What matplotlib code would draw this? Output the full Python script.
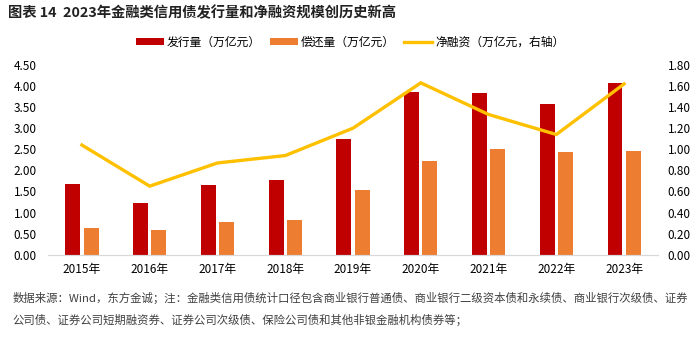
import matplotlib.pyplot as plt
import numpy as np

plt.rcParams["font.family"] = ["Noto Sans CJK SC", "DejaVu Sans"]
plt.rcParams["axes.unicode_minus"] = False

years = ["2015年", "2016年", "2017年", "2018年", "2019年", "2020年", "2021年", "2022年", "2023年"]
issuance = [1.67, 1.23, 1.65, 1.76, 2.74, 3.85, 3.83, 3.58, 4.08]
repayment = [0.63, 0.58, 0.78, 0.82, 1.54, 2.22, 2.50, 2.44, 2.46]
net_financing = [1.04, 0.65, 0.87, 0.94, 1.20, 1.63, 1.33, 1.14, 1.62]

c_issue = "#C00000"
c_repay = "#ED7D31"
c_net = "#FFC000"

fig = plt.figure(figsize=(7, 3.4), dpi=100)
ax = fig.add_axes([0.0686, 0.251, 0.8714, 0.558])
ax2 = ax.twinx()

x = np.arange(len(years))
w = 0.22
ax.bar(x - 0.135, issuance, width=w, color=c_issue, label="发行量（万亿元）", zorder=2)
ax.bar(x + 0.135, repayment, width=w, color=c_repay, label="偿还量（万亿元）", zorder=2)
ax2.plot(x, net_financing, color=c_net, lw=2.4, label="净融资（万亿元，右轴）",
         solid_joinstyle="miter")

ax.set_xlim(-0.5, len(years) - 0.5)
ax.set_ylim(0, 4.5)
ax.set_yticks(np.arange(0, 4.51, 0.5))
ax.set_yticklabels([f"{v:.2f}" for v in np.arange(0, 4.51, 0.5)])
ax2.set_ylim(0, 1.8)
ax2.set_yticks(np.arange(0, 1.81, 0.2))
ax2.set_yticklabels([f"{v:.2f}" for v in np.arange(0, 1.81, 0.2)])
ax.set_xticks(x)
ax.set_xticklabels(years)

for a in (ax, ax2):
    for s in ("top", "left", "right"):
        a.spines[s].set_visible(False)
    a.spines["bottom"].set_color("#D9D9D9")
    a.tick_params(length=0, labelsize=8.5, colors="black")
ax.tick_params(axis="y", pad=8)
ax2.tick_params(axis="y", pad=7)
ax.tick_params(axis="x", pad=6)

h1, l1 = ax.get_legend_handles_labels()
h2, l2 = ax2.get_legend_handles_labels()
fig.legend(h1 + h2, l1 + l2, loc="center", bbox_to_anchor=(0.5, 0.875), ncol=3,
           frameon=False, fontsize=8.5, handlelength=2.4, handleheight=0.55,
           columnspacing=0.75, handletextpad=0.25)

fig.text(0.011, 0.963, "图表 14  2023年金融类信用债发行量和净融资规模创历史新高",
         fontsize=10.3, fontweight="bold", color="#222222", va="center")
fig.text(0.018, 0.123,
         "数据来源：Wind，东方金诚；注：金融类信用债统计口径包含商业银行普通债、商业银行二级资本债和永续债、商业银行次级债、证券",
         fontsize=8.2, color="#404040", va="center")
fig.text(0.018, 0.058,
         "公司债、证券公司短期融资券、证券公司次级债、保险公司债和其他非银金融机构债券等；",
         fontsize=8.2, color="#404040", va="center")

fig.savefig("out.png", dpi=100)
